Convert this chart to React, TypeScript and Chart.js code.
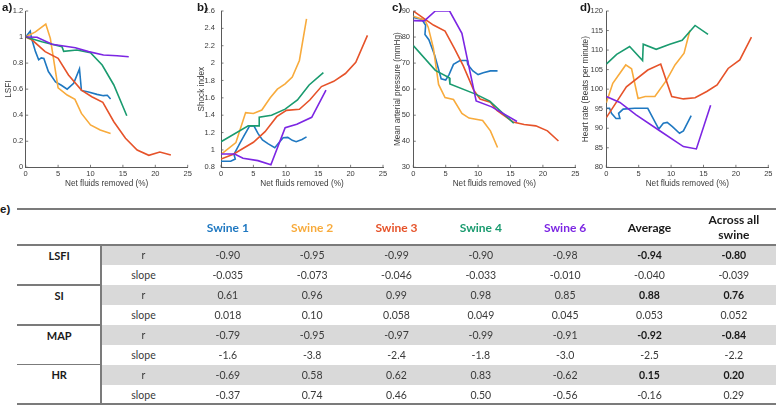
import React, { useEffect, useRef } from 'react';
import { Chart, registerables } from 'chart.js';
Chart.register(...registerables);

type P = [number, number];

// ---------- tick labels ----------
const xTicks = [0, 5, 10, 15, 20, 25];
const lsfiTicks = [0, 0.2, 0.4, 0.6, 0.8, 1, 1.2];
const siTicks = [0.8, 1, 1.2, 1.4, 1.6, 1.8, 2, 2.2, 2.4, 2.6];
const mapTicks = [30, 40, 50, 60, 70, 80, 90];
const hrTicks = [80, 85, 90, 95, 100, 105, 110, 115, 120];

const swineNames = ['Swine 1', 'Swine 2', 'Swine 3', 'Swine 4', 'Swine 6'];
const swineColors = ['#1f78c1', '#f8ab3c', '#e6532a', '#1a9b6f', '#7c26e3'];

// ---------- a) LSFI ----------
const lsfiSwine1: P[] = [[0, 1.0], [0.7, 1.045], [0.9, 0.99], [1.5, 0.89], [2.0, 0.825], [2.4, 0.84], [2.8, 0.835], [3.5, 0.735], [4.6, 0.655], [5.5, 0.63], [6.4, 0.6], [7.4, 0.645], [8.3, 0.755], [8.6, 0.59], [9.7, 0.578], [11.0, 0.56], [12.0, 0.55], [12.6, 0.553], [13.1, 0.524]];
const lsfiSwine2: P[] = [[0, 1.0], [1.5, 1.04], [3.1, 1.1], [3.8, 0.99], [5.0, 0.61], [6.4, 0.555], [7.6, 0.522], [8.6, 0.414], [10.0, 0.325], [11.5, 0.286], [13.1, 0.26]];
const lsfiSwine3: P[] = [[0, 1.0], [1.0, 0.977], [3.0, 0.888], [5.0, 0.837], [6.6, 0.709], [8.6, 0.593], [10.2, 0.542], [11.9, 0.499], [13.6, 0.35], [15.4, 0.223], [17.2, 0.133], [19.0, 0.092], [20.7, 0.117], [22.4, 0.094]];
const lsfiSwine4: P[] = [[0, 1.0], [2.5, 0.964], [5.6, 0.926], [5.86, 0.89], [7.9, 0.9], [10.0, 0.88], [11.8, 0.785], [13.6, 0.632], [15.6, 0.396]];
const lsfiSwine6: P[] = [[0, 1.0], [1.75, 0.998], [4.06, 0.944], [7.66, 0.918], [9.7, 0.888], [12.0, 0.862], [14.1, 0.857], [15.9, 0.849]];

// ---------- b) Shock index ----------
const siSwine1: P[] = [[0, 0.87], [1.5, 0.87], [2.2, 0.895], [2.0, 0.95], [2.8, 1.06], [3.5, 1.155], [4.4, 1.275], [5.1, 1.275], [5.7, 1.19], [6.4, 1.115], [7.3, 1.07], [8.3, 1.026], [8.9, 1.08], [9.6, 1.14], [10.3, 1.145], [11.0, 1.11], [11.6, 1.095], [12.5, 1.12], [13.2, 1.15]];
const siSwine2: P[] = [[0.2, 0.96], [2.3, 1.085], [3.8, 1.43], [5.0, 1.42], [6.3, 1.46], [7.6, 1.6], [8.7, 1.7], [9.9, 1.76], [11.0, 1.84], [12.1, 2.03], [13.2, 2.51]];
const siSwine3: P[] = [[0, 0.895], [1.9, 0.95], [5.0, 1.088], [6.8, 1.21], [8.6, 1.383], [10.1, 1.456], [12.1, 1.468], [13.7, 1.575], [15.5, 1.73], [17.4, 1.79], [19.2, 1.88], [20.8, 2.01], [22.6, 2.32]];
const siSwine4: P[] = [[0, 1.095], [4.2, 1.277], [5.9, 1.277], [5.9, 1.376], [7.8, 1.4], [9.9, 1.47], [11.8, 1.575], [13.6, 1.748], [15.8, 1.89]];
const siSwine6: P[] = [[0, 0.953], [2.1, 0.953], [3.4, 0.905], [5.7, 0.877], [7.7, 0.83], [9.9, 1.256], [11.7, 1.295], [14.0, 1.376], [16.2, 1.69]];

// ---------- c) Mean arterial pressure ----------
const mapSwine1: P[] = [[0, 87.5], [1.3, 86.8], [1.9, 84.5], [1.8, 81], [2.4, 79], [3.3, 73], [4.3, 64], [5.0, 63.5], [5.5, 65.5], [6.2, 69.5], [7.2, 71], [8.3, 71], [8.4, 69.5], [9.2, 67], [10.0, 65.6], [10.8, 66.3], [11.9, 67], [13.0, 67]];
const mapSwine2: P[] = [[0, 88], [1.8, 86.5], [2.3, 83.8], [3.1, 75.7], [3.9, 61.8], [4.9, 56.8], [6.2, 56], [7.5, 50.7], [8.6, 48.9], [10.7, 48], [11.9, 44], [13.0, 37.6]];
const mapSwine3: P[] = [[0, 90], [3.1, 84.6], [4.9, 82.3], [6.4, 75.4], [7.7, 69], [9.3, 59.7], [10.3, 56.2], [11.9, 55], [12.9, 51.8], [15.4, 47.4], [17.1, 46.4], [18.9, 45.9], [20.7, 44], [22.4, 40.1]];
const mapSwine4: P[] = [[0, 76.7], [3.4, 67.2], [5.55, 64.4], [5.65, 62], [9.7, 58], [11.8, 55.4], [15.5, 46.9]];
const mapSwine6: P[] = [[0, 86.3], [1.7, 86.2], [3.4, 90], [5.6, 90], [7.5, 81.4], [9.7, 55.5], [12.1, 53.2], [16.0, 47.6]];

// ---------- d) Heart rate ----------
const hrSwine1: P[] = [[0, 95.1], [0.5, 95.1], [0.8, 93.8], [1.5, 92.5], [2.1, 92.5], [1.9, 93.8], [2.6, 94.9], [4.4, 95.1], [6.4, 95.1], [8.1, 89.8], [8.8, 91.3], [9.4, 91.5], [10.2, 90.4], [11.3, 88.7], [11.9, 89.3], [13.1, 93.2]];
const hrSwine2: P[] = [[0, 96.5], [1.0, 101.5], [3.0, 106.2], [3.9, 105.2], [4.9, 97.6], [6.0, 98.1], [7.5, 98.1], [9.3, 102.3], [10.6, 106.2], [12.0, 109.2], [12.9, 115]];
const hrSwine3: P[] = [[0, 92.7], [3.1, 100.6], [6.4, 104.9], [8.4, 106.4], [10.1, 98.1], [11.9, 97.5], [13.7, 97.8], [15.5, 99.4], [17.1, 101.1], [18.8, 105.3], [20.6, 107.5], [22.4, 113.3]];
const hrSwine4: P[] = [[0, 106.4], [1.6, 108.9], [3.6, 110.9], [5.6, 107.3], [5.7, 111.5], [7.7, 110.2], [9.8, 111.5], [11.7, 112.5], [13.7, 116.3], [15.7, 114.0]];
const hrSwine6: P[] = [[0, 98.1], [2.1, 96.6], [4.6, 93.4], [8.3, 89.3], [11.9, 85.3], [13.9, 84.7], [16.1, 95.9]];

// ---------- e) table ----------
const tableMetrics = ['LSFI', 'SI', 'MAP', 'HR'];
const rowStats = ['r', 'slope'];
const columnHeaders = ['Swine 1', 'Swine 2', 'Swine 3', 'Swine 4', 'Swine 6', 'Average', 'Across all swine'];
const rByMetric = [
  ['-0.90', '-0.95', '-0.99', '-0.90', '-0.98', '-0.94', '-0.80'],
  ['0.61', '0.96', '0.99', '0.98', '0.85', '0.88', '0.76'],
  ['-0.79', '-0.95', '-0.97', '-0.99', '-0.91', '-0.92', '-0.84'],
  ['-0.69', '0.58', '0.62', '0.83', '-0.62', '0.15', '0.20'],
];
const slopeByMetric = [
  ['-0.035', '-0.073', '-0.046', '-0.033', '-0.010', '-0.040', '-0.039'],
  ['0.018', '0.10', '0.058', '0.049', '0.045', '0.053', '0.052'],
  ['-1.6', '-3.8', '-2.4', '-1.8', '-3.0', '-2.5', '-2.2'],
  ['-0.37', '0.74', '0.46', '0.50', '-0.56', '-0.16', '0.29'],
];

const AXIS = '#5a5a5a';
const TEXT = '#3a3a3a';
const AX_FONT = '"Liberation Sans", Arial, sans-serif';
const TBL_FONT = 'Lato, "Open Sans", sans-serif';

interface PanelSpec {
  label: string;
  left: number;
  width: number;
  yAxisWidth: number;
  titlePad: number;
  tickPad: number;
  yMin: number;
  yMax: number;
  yTicks: number[];
  yTitle: string;
  series: P[][];
  labelLeft: number;
}

const panels: PanelSpec[] = [
  { label: 'a)', left: 0, width: 196, yAxisWidth: 25.7, titlePad: 4.1, tickPad: 2.5, yMin: 0, yMax: 1.2, yTicks: lsfiTicks, yTitle: 'LSFI', series: [lsfiSwine1, lsfiSwine2, lsfiSwine3, lsfiSwine4, lsfiSwine6], labelLeft: 2 },
  { label: 'b)', left: 190, width: 200, yAxisWidth: 31, titlePad: 6.8, tickPad: 6, yMin: 0.8, yMax: 2.6, yTicks: siTicks, yTitle: 'Shock index', series: [siSwine1, siSwine2, siSwine3, siSwine4, siSwine6], labelLeft: 197 },
  { label: 'c)', left: 385, width: 198, yAxisWidth: 28.3, titlePad: 7.4, tickPad: 3.3, yMin: 30, yMax: 90, yTicks: mapTicks, yTitle: 'Mean arterial pressure (mmHg)', series: [mapSwine1, mapSwine2, mapSwine3, mapSwine4, mapSwine6], labelLeft: 392 },
  { label: 'd)', left: 578, width: 200, yAxisWidth: 28.3, titlePad: 2.4, tickPad: 3.3, yMin: 80, yMax: 120, yTicks: hrTicks, yTitle: 'Heart rate (Beats per minute)', series: [hrSwine1, hrSwine2, hrSwine3, hrSwine4, hrSwine6], labelLeft: 580 },
];

const CANVAS_H = 195;
const PLOT_TOP = 11;
const PLOT_BOTTOM = 167.3;
const PLOT_W = 162;

const innerTicks = {
  id: 'innerTicks',
  afterDraw(chart: any) {
    const { ctx, chartArea, scales } = chart;
    ctx.save();
    ctx.strokeStyle = AXIS;
    ctx.lineWidth = 0.8;
    const xs = scales.x;
    const ys = scales.y;
    xs.ticks.forEach((t: any) => {
      const px = xs.getPixelForValue(t.value);
      ctx.beginPath();
      ctx.moveTo(px, chartArea.bottom);
      ctx.lineTo(px, chartArea.bottom - 2.5);
      ctx.stroke();
    });
    ys.ticks.forEach((t: any) => {
      const py = ys.getPixelForValue(t.value);
      ctx.beginPath();
      ctx.moveTo(chartArea.left, py);
      ctx.lineTo(chartArea.left + 2.5, py);
      ctx.stroke();
    });
    ctx.restore();
  },
};

const fmt = (v: number) => String(Number(v.toFixed(2)));

function makeConfig(p: PanelSpec): any {
  const rightPad = p.width - p.yAxisWidth - PLOT_W;
  return {
    type: 'line',
    data: {
      datasets: p.series.map((s, i) => ({
        label: swineNames[i],
        data: s.map(([x, y]) => ({ x, y })),
        borderColor: swineColors[i],
        backgroundColor: swineColors[i],
        borderWidth: 1.6,
        pointRadius: 0,
        tension: 0,
        fill: false,
        order: 4 - i,
      })),
    },
    options: {
      responsive: false,
      animation: false,
      events: [],
      layout: { padding: { left: 0, right: rightPad, top: PLOT_TOP, bottom: 0 } },
      plugins: { legend: { display: false }, tooltip: { enabled: false } },
      scales: {
        x: {
          type: 'linear',
          min: 0,
          max: 25,
          afterBuildTicks: (s: any) => { s.ticks = xTicks.map((v) => ({ value: v })); },
          afterFit: (s: any) => { s.height = CANVAS_H - PLOT_BOTTOM; },
          grid: { display: true, drawOnChartArea: false, drawTicks: false, color: 'rgba(0,0,0,0)' },
          border: { display: true, color: AXIS, width: 1 },
          ticks: { padding: 2.5, color: TEXT, font: { family: AX_FONT, size: 7.5 }, maxRotation: 0, callback: (v: any) => fmt(Number(v)) },
          title: { display: true, text: 'Net fluids removed (%)', color: TEXT, font: { family: AX_FONT, size: 8.2 }, padding: { top: 0, bottom: 6.8 } },
        },
        y: {
          type: 'linear',
          min: p.yMin,
          max: p.yMax,
          afterBuildTicks: (s: any) => { s.ticks = p.yTicks.map((v) => ({ value: v })); },
          afterFit: (s: any) => { s.width = p.yAxisWidth; },
          grid: { display: true, drawOnChartArea: false, drawTicks: false, color: 'rgba(0,0,0,0)' },
          border: { display: true, color: AXIS, width: 1 },
          ticks: { padding: p.tickPad, color: TEXT, font: { family: AX_FONT, size: 7.5 }, callback: (v: any) => fmt(Number(v)) },
          title: { display: true, text: p.yTitle, color: TEXT, font: { family: AX_FONT, size: 8.2 }, padding: { top: p.titlePad, bottom: 0 } },
        },
      },
    },
    plugins: [innerTicks],
  };
}

const TBL_LEFT = 17;
const TBL_RIGHT = 776;
const COL_W = (TBL_RIGHT - TBL_LEFT) / 9;
const TBL_TOP = 207.5;
const HEAD_BOTTOM = 245.5;
const ROW_H = 19.9;
const LINE_C = '#7b7b7b';
const SHADE = '#d9d9d9';

function Table() {
  const els: React.ReactNode[] = [];
  const colCenter = (i: number) => TBL_LEFT + COL_W * (i + 0.5);
  const cell = (key: string, i: number, top: number, h: number, text: string, style: React.CSSProperties) => (
    <div key={key} style={{ position: 'absolute', left: colCenter(i) - COL_W / 2, width: COL_W, top, height: h, display: 'flex', alignItems: 'center', justifyContent: 'center', textAlign: 'center', fontFamily: TBL_FONT, whiteSpace: 'pre-line', ...style }}>{text}</div>
  );
  // shading rows
  for (let m = 0; m < tableMetrics.length; m++) {
    for (let s = 0; s < rowStats.length; s++) {
      const top = HEAD_BOTTOM + (m * 2 + s) * ROW_H;
      if (s === 0) {
        els.push(<div key={`sh${m}`} style={{ position: 'absolute', left: 101, width: TBL_RIGHT - 101, top, height: ROW_H, background: SHADE }} />);
      }
    }
  }
  // lines
  els.push(<div key="topline" style={{ position: 'absolute', left: TBL_LEFT, width: TBL_RIGHT - TBL_LEFT, top: TBL_TOP, height: 2, background: LINE_C }} />);
  els.push(<div key="headline" style={{ position: 'absolute', left: TBL_LEFT, width: TBL_RIGHT - TBL_LEFT, top: HEAD_BOTTOM - 1.5, height: 2, background: LINE_C }} />);
  els.push(<div key="botline" style={{ position: 'absolute', left: TBL_LEFT, width: TBL_RIGHT - TBL_LEFT, top: HEAD_BOTTOM + 8 * ROW_H - 1.5, height: 2, background: LINE_C }} />);
  els.push(<div key="vline" style={{ position: 'absolute', left: 100, width: 2, top: HEAD_BOTTOM - 0.5, height: 8 * ROW_H, background: LINE_C }} />);
  for (let m = 1; m < tableMetrics.length; m++) {
    els.push(<div key={`gl${m}`} style={{ position: 'absolute', left: TBL_LEFT, width: 101 - TBL_LEFT, top: HEAD_BOTTOM + m * 2 * ROW_H - 1, height: 1.6, background: LINE_C }} />);
  }
  // headers
  columnHeaders.forEach((h, i) => {
    const color = i < swineColors.length ? swineColors[i] : '#1a1a1a';
    const text = h === 'Across all swine' ? 'Across all\nswine' : h;
    els.push(cell(`h${i}`, i + 2, TBL_TOP + 2, HEAD_BOTTOM - TBL_TOP - 3, text, { color, fontWeight: 700, fontSize: 12, lineHeight: '15px' }));
  });
  // body
  tableMetrics.forEach((metric, m) => {
    const top0 = HEAD_BOTTOM + m * 2 * ROW_H;
    els.push(cell(`m${m}`, 0, top0, ROW_H, metric, { color: '#1a1a1a', fontWeight: 700, fontSize: 11 }));
    rowStats.forEach((st, s) => {
      const top = top0 + s * ROW_H;
      els.push(cell(`st${m}${s}`, 1, top, ROW_H, st, { color: TEXT, fontSize: 10.5 }));
      const vals = s === 0 ? rByMetric[m] : slopeByMetric[m];
      vals.forEach((v, c) => {
        const bold = s === 0 && c >= 5;
        els.push(cell(`v${m}${s}${c}`, c + 2, top, ROW_H, v, { color: bold ? '#1a1a1a' : TEXT, fontWeight: bold ? 700 : 400, fontSize: 10.5 }));
      });
    });
  });
  els.push(<div key="elabel" style={{ position: 'absolute', left: 0, top: 203, fontFamily: AX_FONT, fontWeight: 700, fontSize: 11.5, color: '#1a1a1a' }}>e)</div>);
  return <>{els}</>;
}

export default function App() {
  const refs = [useRef<HTMLCanvasElement>(null), useRef<HTMLCanvasElement>(null), useRef<HTMLCanvasElement>(null), useRef<HTMLCanvasElement>(null)];
  useEffect(() => {
    const charts = panels.map((p, i) => new Chart(refs[i].current as HTMLCanvasElement, makeConfig(p)));
    return () => charts.forEach((c) => c.destroy());
  }, []);
  return (
    <div style={{ position: 'fixed', left: 0, top: 0, width: 778, height: 406, background: '#fff', overflow: 'hidden' }}>
      {panels.map((p, i) => (
        <canvas key={p.label} ref={refs[i]} width={p.width} height={CANVAS_H} style={{ position: 'absolute', left: p.left, top: 0, width: p.width, height: CANVAS_H }} />
      ))}
      {panels.map((p) => (
        <div key={`lab${p.label}`} style={{ position: 'absolute', left: p.labelLeft, top: 0, fontFamily: AX_FONT, fontWeight: 700, fontSize: 11.5, color: '#1a1a1a', lineHeight: '14px' }}>{p.label}</div>
      ))}
      <Table />
    </div>
  );
}
